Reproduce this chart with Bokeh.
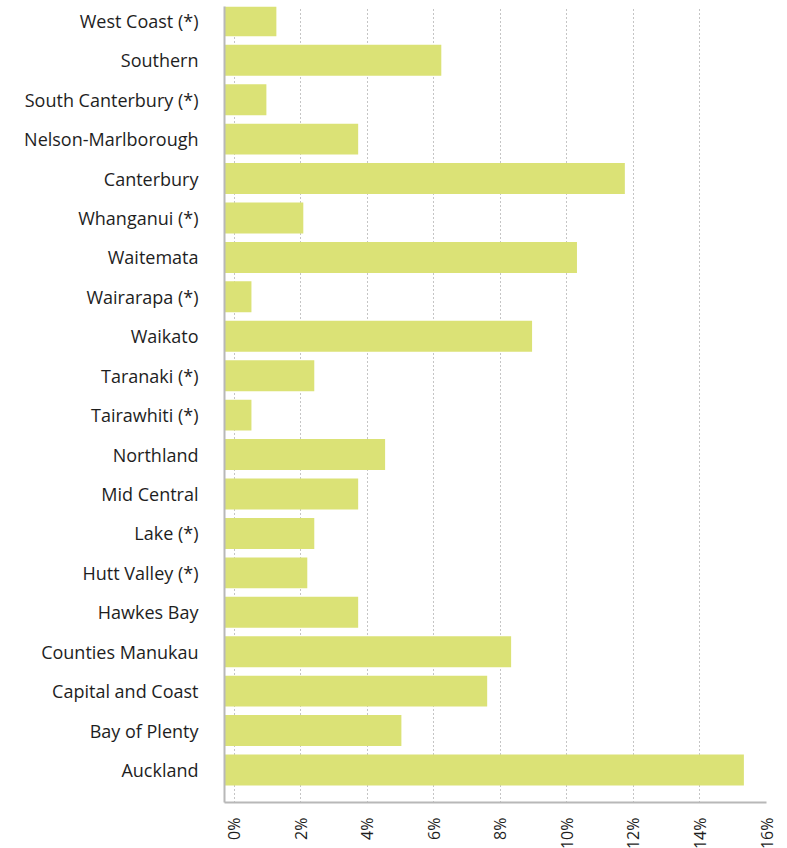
from bokeh.plotting import figure
from bokeh.models import Range1d, FixedTicker, ColumnDataSource
from bokeh.embed import file_html
from bokeh.resources import INLINE
import math

# Categories from bottom (Auckland) to top (West Coast)
regions = [
    "Auckland", "Bay of Plenty", "Capital and Coast", "Counties Manukau",
    "Hawkes Bay", "Hutt Valley (*)", "Lake (*)", "Mid Central", "Northland",
    "Tairawhiti (*)", "Taranaki (*)", "Waikato", "Wairarapa (*)", "Waitemata",
    "Whanganui (*)", "Canterbury", "Nelson-Marlborough", "South Canterbury (*)",
    "Southern", "West Coast (*)",
]
shares = [
    15.32, 5.02, 7.60, 8.32,
    3.72, 2.19, 2.40, 3.72, 4.53,
    0.51, 2.40, 8.95, 0.51, 10.30,
    2.07, 11.74, 3.72, 0.96,
    6.22, 1.26,
]
x_ticks = [0, 2, 4, 6, 8, 10, 12, 14, 16]
x_tick_labels = ["0%", "2%", "4%", "6%", "8%", "10%", "12%", "14%", "16%"]

X_START = -0.3
FONT = "Open Sans"

idx = list(range(len(regions)))
src = ColumnDataSource(dict(y=idx, right=shares, left=[X_START] * len(shares)))

p = figure(
    frame_width=542, frame_height=796,
    min_border_left=224, min_border_right=21, min_border_top=6, min_border_bottom=46,
    x_range=Range1d(X_START, 16), y_range=Range1d(-0.824, 19.363),
    output_backend="svg", toolbar_location=None,
)
p.outline_line_color = None

p.hbar(y="y", left="left", right="right", height=0.785, source=src,
       fill_color="#dbe276", line_color=None)

# y axis
p.yaxis.ticker = FixedTicker(ticks=idx)
p.yaxis.major_label_overrides = {i: r for i, r in zip(idx, regions)}
p.yaxis.major_tick_line_color = None
p.yaxis.minor_tick_line_color = None
p.yaxis.axis_line_color = "#b8b8b8"
p.yaxis.axis_line_width = 2
p.yaxis.major_label_text_font = FONT
p.yaxis.major_label_text_font_size = "18px"
p.yaxis.major_label_text_color = "#1e1e1e"
p.yaxis.major_label_standoff = 20
p.ygrid.grid_line_color = None

# x axis
p.xaxis.ticker = FixedTicker(ticks=x_ticks)
p.xaxis.major_label_overrides = {t: l for t, l in zip(x_ticks, x_tick_labels)}
p.xaxis.major_label_orientation = math.pi / 2
p.xaxis.major_tick_line_color = None
p.xaxis.minor_tick_line_color = None
p.xaxis.axis_line_color = "#b8b8b8"
p.xaxis.axis_line_width = 2
p.xaxis.major_label_text_font = FONT
p.xaxis.major_label_text_font_size = "16px"
p.xaxis.major_label_text_color = "#1e1e1e"
p.xaxis.major_label_standoff = 9
p.xgrid.grid_line_color = "#8a8a8a"
p.xgrid.grid_line_dash = "1 3"
p.xgrid.grid_line_width = 1

open("out.html", "w").write(file_html(p, INLINE))
